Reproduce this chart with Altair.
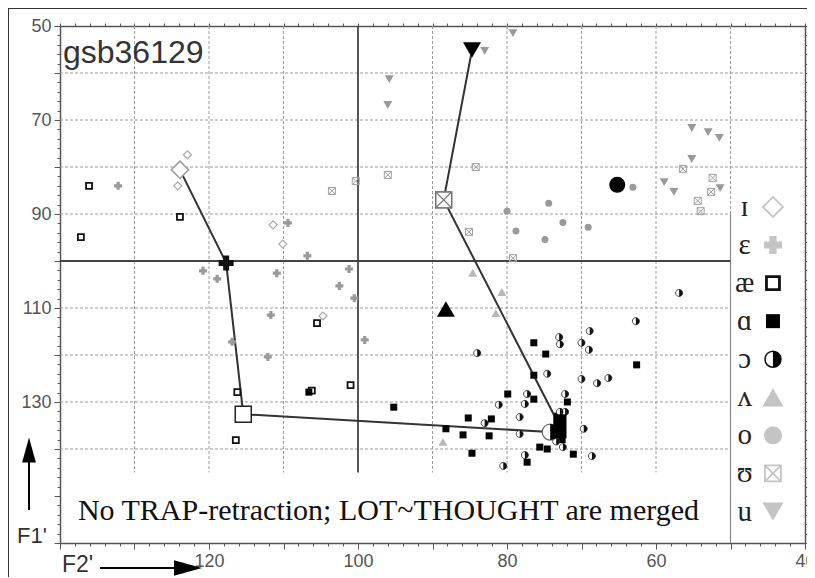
import altair as alt
import pandas as pd

# ---------------- data (F2' = x, F1' = y) ----------------
ih_x = [122.9, 124.2, 111.4, 110.1, 104.7]
ih_y = [77.4, 84.0, 92.3, 96.4, 111.7]

eh_x = [132.2, 109.4, 106.8, 101.2, 120.8, 118.9, 110.9, 102.5, 100.5, 111.7, 99.1, 116.9, 112.1]
eh_y = [84.0, 91.9, 98.9, 101.7, 102.1, 103.8, 102.6, 105.3, 107.9, 111.5, 116.8, 117.2, 120.4]

ae_x = [136.1, 123.9, 137.2, 105.5, 116.2, 116.4, 101.0, 106.2]
ae_y = [84.0, 90.6, 94.9, 113.2, 127.9, 138.1, 126.4, 127.6]

ah_x = [76.4, 74.8, 76.4, 79.9, 76.4, 71.9, 85.2, 82.1, 88.2, 85.9, 82.4, 84.7, 75.6, 74.6,
        71.1, 77.3, 62.6, 95.2, 106.6, 73.2, 72.6]
ah_y = [117.4, 119.8, 124.3, 128.3, 129.4, 130.0, 133.4, 133.6, 135.7, 137.0, 137.2, 140.9,
        139.6, 140.0, 141.1, 142.8, 122.1, 131.1, 127.9, 133.0, 138.0]

oh_x = [73.0, 72.9, 70.0, 69.0, 68.9, 84.0, 74.6, 70.0, 67.9, 66.4, 77.3, 81.1, 77.6, 72.2,
        83.0, 78.3, 72.9, 72.2, 69.7, 78.3, 72.5, 77.6, 68.6, 80.5, 56.9, 62.7, 73.4]
oh_y = [116.2, 117.7, 117.4, 118.9, 114.9, 119.6, 124.0, 125.1, 126.0, 124.9, 128.3, 130.6,
        130.4, 128.3, 134.5, 133.2, 132.1, 132.1, 135.7, 136.8, 139.6, 141.3, 141.5, 143.6,
        106.8, 112.8, 138.4]

uh_x = [84.6, 80.7, 81.5, 88.6]
uh_y = [102.5, 106.6, 111.1, 138.5]

o_x = [63.1, 74.4, 80.0, 72.5, 69.1, 78.8, 74.9]
o_y = [84.3, 87.7, 89.4, 91.8, 92.8, 93.6, 95.4]

uu_x = [103.5, 100.3, 96.0, 84.2, 85.1, 79.2, 56.4, 52.4, 52.6, 54.4, 54.0]
uu_y = [85.1, 83.0, 81.7, 80.0, 93.8, 99.4, 80.4, 82.3, 85.3, 87.2, 89.4]

u_x = [95.8, 96.0, 79.2, 83.0, 55.2, 53.0, 51.5, 55.2, 58.9, 57.6, 51.4]
u_y = [61.3, 66.8, 51.5, 55.3, 71.7, 72.6, 73.8, 78.3, 83.2, 85.3, 84.5]

# category means
vowels = ["ɪ", "ɛ", "æ", "ɑ", "ɔ", "ʌ", "o", "ʊ", "u"]
mean_x = [123.9, 117.7, 115.4, 72.9, 74.2, 88.2, 65.2, 88.5, 84.7]
mean_y = [80.6, 100.4, 132.6, 135.2, 136.4, 110.2, 83.8, 87.0, 55.1]
path_order = ["ɪ", "ɛ", "æ", "ɔ", "ɑ", "ʊ", "u"]

# grid lines
vgrid_dash = [130, 120, 110, 90, 80, 70, 60]
hgrid_full = [60, 70, 80]
hgrid_part = [90, 110, 120, 130, 140]

title_text = "gsb36129"
note_text = "No TRAP-retraction; LOT~THOUGHT are merged"

# ---------------- helpers ----------------
xs = alt.Scale(domain=[40, 140], reverse=True, nice=False, zero=False)
ys = alt.Scale(domain=[50, 160], reverse=True, nice=False, zero=False)

CIRC = "M1,0A1,1,0,1,1,-1,0A1,1,0,1,1,1,0Z"
HALF = "M0,-1A1,1,0,0,1,0,1Z"
SQX = "M-1,-1H1V1H-1Z M-1,-1L1,1 M1,-1L-1,1"
TALL = "M-0.55,-1H0.55V1H-0.55Z"
UPHEAD = "M0,-1L0.55,1L-0.55,1Z"
RIGHTHEAD = "M1,0L-1,0.55L-1,-0.55Z"

def X(f="x"):
    return alt.X(f"{f}:Q", scale=xs, axis=None)

def Y(f="y"):
    return alt.Y(f"{f}:Q", scale=ys, axis=None)

def pts(xv, yv, **mk):
    df = pd.DataFrame({"x": xv, "y": yv})
    return alt.Chart(df).mark_point(**mk).encode(x=X(), y=Y())

SANS = "Liberation Sans"
SERIF = "Liberation Serif"
AX = "#555555"
GRID = "#9a9a9a"

x_axis = alt.Axis(
    values=list(range(40, 141, 2)),
    labelExpr="(datum.value % 20 == 0 && datum.value < 130) ? datum.value : ''",
    labelFont=SANS, labelFontSize=18, labelColor=AX, labelPadding=3,
    labelFlush=False, labelOverlap=False, labelBound=False,
    tickColor=AX, tickWidth=1,
    tickSize={"condition": {"test": "datum.value % 10 == 0", "value": 6}, "value": 3},
    domainColor=AX, domainWidth=1.5, grid=False, title=None,
)
y_axis = alt.Axis(
    values=list(range(50, 161, 2)),
    labelExpr="((datum.value - 50) % 20 == 0 && datum.value <= 130) ? datum.value : ''",
    labelFont=SANS, labelFontSize=18, labelColor=AX, labelPadding=3,
    labelFlush=False, labelOverlap=False, labelBound=False,
    tickColor=AX, tickWidth=1,
    tickSize={"condition": {"test": "datum.value % 10 == 0", "value": 6}, "value": 3},
    domainColor=AX, domainWidth=1.5, grid=False, title=None,
)
x_axis_top = alt.Axis(orient="top", values=list(range(40, 141, 2)), labels=False,
                      tickColor=AX, tickSize=3, domainColor=AX, domainWidth=1.5,
                      grid=False, title=None)
y_axis_right = alt.Axis(orient="right", values=list(range(50, 161, 2)), labels=False,
                        tickColor=AX, tickSize=3, domainColor=AX, domainWidth=1.5,
                        grid=False, title=None)

# ---------------- grid ----------------
vg = pd.DataFrame({"x": vgrid_dash, "y": 50, "y2": 145})
vgrid = alt.Chart(vg).mark_rule(color=GRID, strokeDash=[3, 2], strokeWidth=1).encode(
    x=alt.X("x:Q", scale=xs, axis=x_axis), y=alt.Y("y:Q", scale=ys, axis=y_axis), y2="y2:Q")

hg = pd.DataFrame({"y": hgrid_full + hgrid_part,
                   "x": [140] * (len(hgrid_full) + len(hgrid_part)),
                   "x2": [40] * len(hgrid_full) + [50] * len(hgrid_part)})
hgrid = alt.Chart(hg).mark_rule(color=GRID, strokeDash=[3, 2], strokeWidth=1).encode(
    y=alt.Y("y:Q", scale=ys, axis=y_axis_right), x=alt.X("x:Q", scale=xs, axis=x_axis_top), x2="x2:Q")

g50a = alt.Chart(pd.DataFrame({"x": [50], "y": [50], "y2": [90]})).mark_rule(
    color=GRID, strokeDash=[3, 2], strokeWidth=1).encode(x=X(), y=Y(), y2="y2:Q")
g50b = alt.Chart(pd.DataFrame({"x": [50], "y": [90], "y2": [160]})).mark_rule(
    color="#8a8a8a", strokeWidth=1.2).encode(x=X(), y=Y(), y2="y2:Q")
solid_v = alt.Chart(pd.DataFrame({"x": [100], "y": [50], "y2": [145]})).mark_rule(
    color="#444444", strokeWidth=1.8).encode(x=X(), y=Y(), y2="y2:Q")
solid_h = alt.Chart(pd.DataFrame({"y": [100], "x": [140], "x2": [50]})).mark_rule(
    color="#444444", strokeWidth=1.8).encode(y=Y(), x=X(), x2="x2:Q")

# ---------------- individual tokens ----------------
L_GRAY = "#a8a8a8"
ih_l = pts(ih_x, ih_y, shape="diamond", size=64, filled=True, fill="white", stroke=L_GRAY, strokeWidth=1.2, opacity=1)
eh_l = pts(eh_x, eh_y, shape="cross", size=64, filled=True, color="#9a9a9a", opacity=1)
ae_l = pts(ae_x, ae_y, shape="square", size=36, filled=True, fill="white", stroke="#111111", strokeWidth=1.8, opacity=1)
ah_l = pts(ah_x, ah_y, shape="square", size=49, filled=True, color="#000000", opacity=1)
oh_l1 = pts(oh_x, oh_y, shape=CIRC, size=49, filled=True, fill="white", stroke="#222222", strokeWidth=0.8, opacity=1)
oh_l2 = pts(oh_x, oh_y, shape=HALF, size=49, filled=True, color="#111111", opacity=1)
uh_l = pts(uh_x, uh_y, shape="triangle-up", size=81, filled=True, color="#b8b8b8", opacity=1)
o_l = pts(o_x, o_y, shape="circle", size=49, filled=True, color="#9a9a9a", opacity=1)
uu_l = pts(uu_x, uu_y, shape=SQX, size=49, filled=False, color="#a0a0a0", strokeWidth=1, opacity=1)
u_l = pts(u_x, u_y, shape="triangle-down", size=81, filled=True, color="#999999", opacity=1)

# ---------------- means + trajectory ----------------
means = pd.DataFrame({"v": vowels, "x": mean_x, "y": mean_y})
path_df = means.set_index("v").loc[path_order].reset_index()
path_df["ord"] = range(len(path_df))
traj = alt.Chart(path_df).mark_line(color="#333333", strokeWidth=2).encode(
    x=X(), y=Y(), order="ord:Q")

def mean_pt(v, **mk):
    return alt.Chart(means[means.v == v]).mark_point(opacity=1, **mk).encode(x=X(), y=Y())

m_ih = mean_pt("ɪ", shape="diamond", size=300, filled=True, fill="white", stroke="#999999", strokeWidth=1.5)
m_eh = mean_pt("ɛ", shape="cross", size=225, filled=True, color="#111111")
m_ae = mean_pt("æ", shape="square", size=256, filled=True, fill="white", stroke="#222222", strokeWidth=1.5)
m_oh1 = mean_pt("ɔ", shape=CIRC, size=256, filled=True, fill="white", stroke="#666666", strokeWidth=1.2)
m_oh2 = mean_pt("ɔ", shape=HALF, size=256, filled=True, color="#000000")
m_ah = mean_pt("ɑ", shape=TALL, size=576, filled=True, color="#000000")
m_uh = mean_pt("ʌ", shape="triangle-up", size=324, filled=True, color="#000000")
m_o = mean_pt("o", shape="circle", size=256, filled=True, color="#000000")
m_uu1 = mean_pt("ʊ", shape="square", size=256, filled=True, fill="white", stroke="#777777", strokeWidth=1.3)
m_uu2 = mean_pt("ʊ", shape=SQX, size=256, filled=False, color="#777777", strokeWidth=1.3)
m_u = mean_pt("u", shape="triangle-down", size=324, filled=True, color="#000000")

# ---------------- legend (inside right column) ----------------
leg_top, leg_step = 88.5, 8.1
leg = pd.DataFrame({"v": vowels, "y": [leg_top + i * leg_step for i in range(len(vowels))]})
leg["xl"] = 48.1
leg["xm"] = 44.3
leg_txt = alt.Chart(leg).mark_text(font=SERIF, fontSize=29, color="#222222", align="center",
                                   baseline="middle").encode(x=X("xl"), y=Y(), text="v:N")

def leg_pt(v, **mk):
    return alt.Chart(leg[leg.v == v]).mark_point(opacity=1, **mk).encode(x=X("xm"), y=Y())

LEG_G = "#c4c4c4"
lg = [
    leg_pt("ɪ", shape="diamond", size=400, filled=True, fill="white", stroke=LEG_G, strokeWidth=1.8),
    leg_pt("ɛ", shape="cross", size=324, filled=True, color=LEG_G),
    leg_pt("æ", shape="square", size=169, filled=True, fill="white", stroke="#111111", strokeWidth=2.8),
    leg_pt("ɑ", shape="square", size=196, filled=True, color="#000000"),
    leg_pt("ɔ", shape=CIRC, size=256, filled=True, fill="white", stroke="#111111", strokeWidth=1.5),
    leg_pt("ɔ", shape=HALF, size=256, filled=True, color="#000000"),
    leg_pt("ʌ", shape="triangle-up", size=441, filled=True, color=LEG_G),
    leg_pt("o", shape="circle", size=324, filled=True, color=LEG_G),
    leg_pt("ʊ", shape=SQX, size=256, filled=False, color=LEG_G, strokeWidth=1.8),
    leg_pt("u", shape="triangle-down", size=441, filled=True, color=LEG_G),
]

# ---------------- texts ----------------
title = alt.Chart(pd.DataFrame({"x": [139.6], "y": [57.9], "t": [title_text]})).mark_text(
    font=SANS, fontSize=32, color="#333333", align="left", baseline="alphabetic").encode(
    x=X(), y=Y(), text="t:N")
note = alt.Chart(pd.DataFrame({"x": [137.6], "y": [155.1], "t": [note_text]})).mark_text(
    font=SERIF, fontSize=30, color="#111111", align="left", baseline="alphabetic").encode(
    x=X(), y=Y(), text="t:N")

one = pd.DataFrame({"t": ["F1'"]})
f1 = alt.Chart(one).mark_text(font=SANS, fontSize=22, color="#333333", align="left",
                              baseline="alphabetic").encode(x=alt.value(-43), y=alt.value(517), text="t:N")
f2 = alt.Chart(pd.DataFrame({"t": ["F2'"]})).mark_text(
    font=SANS, fontSize=23, color="#333333", align="left", baseline="alphabetic").encode(
    x=alt.value(2), y=alt.value(546), text="t:N")
f1_shaft = alt.Chart(one).mark_rule(color="#000000", strokeWidth=2).encode(
    x=alt.value(-31), y=alt.value(435), y2=alt.value(484))
f1_head = alt.Chart(one).mark_point(shape=UPHEAD, size=625, filled=True, color="#000000", opacity=1).encode(
    x=alt.value(-31), y=alt.value(424))
f2_shaft = alt.Chart(one).mark_rule(color="#000000", strokeWidth=2).encode(
    x=alt.value(40), x2=alt.value(118), y=alt.value(542))
f2_head = alt.Chart(one).mark_point(shape=RIGHTHEAD, size=784, filled=True, color="#000000", opacity=1).encode(
    x=alt.value(128), y=alt.value(542))

frame_top = alt.Chart(one).mark_rule(color="#333333", strokeWidth=1).encode(
    x=alt.value(-52), x2=alt.value(760), y=alt.value(-17.5))
frame_left = alt.Chart(one).mark_rule(color="#333333", strokeWidth=1).encode(
    x=alt.value(-51.5), y=alt.value(-18), y2=alt.value(560))

chart = alt.layer(
    vgrid, hgrid, g50a, g50b, solid_v, solid_h,
    traj,
    ih_l, eh_l, ae_l, ah_l, oh_l1, oh_l2, uh_l, o_l, uu_l, u_l,
    m_ih, m_eh, m_ae, m_oh1, m_oh2, m_ah, m_uh, m_o, m_uu1, m_uu2, m_u,
    leg_txt, *lg,
    title, note, f1, f2, f1_shaft, f1_head, f2_shaft, f2_head, frame_top, frame_left,
).resolve_axis(x="independent", y="independent").properties(
    width=745, height=517,
    autosize=alt.AutoSizeParams(type="none"),
    padding={"left": 52, "top": 18, "right": 2, "bottom": 34},
).configure_view(stroke=None)

chart.save("out.html", embed_options={"renderer": "svg", "actions": False})
